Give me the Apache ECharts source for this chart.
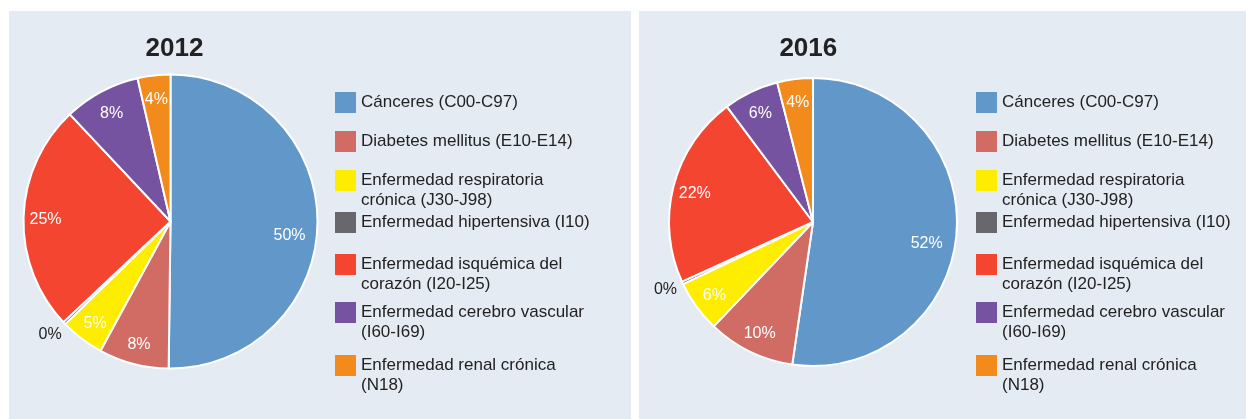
<!DOCTYPE html>
<html>
<head>
<meta charset="utf-8">
<script src="https://cdn.jsdelivr.net/npm/echarts@6/dist/echarts.min.js"></script>
<style>
  html, body { margin: 0; padding: 0; background: #fff; width: 1246px; height: 419px; overflow: hidden; }
  .panel { position: absolute; top: 11px; height: 408px; background: #e5ebf3; }
  #chart2012 { left: 9px; width: 622px; }
  #chart2016 { left: 639px; width: 607px; }
</style>
</head>
<body>
<div id="chart2012" class="panel" role="img" aria-label="Distribución de muertes por causa, 2012"></div>
<div id="chart2016" class="panel" role="img" aria-label="Distribución de muertes por causa, 2016"></div>
<script>
const causes = [
  "Cánceres (C00-C97)",
  "Diabetes mellitus (E10-E14)",
  "Enfermedad respiratoria crónica (J30-J98)",
  "Enfermedad hipertensiva (I10)",
  "Enfermedad isquémica del corazón (I20-I25)",
  "Enfermedad cerebro vascular (I60-I69)",
  "Enfermedad renal crónica (N18)",
]
const legendLabels = [
  "Cánceres (C00-C97)",
  "Diabetes mellitus (E10-E14)",
  "Enfermedad respiratoria\ncrónica (J30-J98)",
  "Enfermedad hipertensiva (I10)",
  "Enfermedad isquémica del\ncorazón (I20-I25)",
  "Enfermedad cerebro vascular\n(I60-I69)",
  "Enfermedad renal crónica\n(N18)",
]
const share2012 = [50.2, 7.7, 4.8, 0.3, 25.0, 8.4, 3.6]
const share2016 = [52.3, 9.8, 5.8, 0.3, 21.6, 6.2, 4.0]
const causeColors = ["#6198c9", "#d16c65", "#ffed00", "#68676b", "#f3452f", "#7653a1", "#f38b1c"]

const fontFamily = "Liberation Sans, Arial, sans-serif"
const pct = (p) => Math.round(p.percent) + "%"

function renderPie(node, year, shares, layout) {
  const chart = echarts.init(node, null, { renderer: "canvas" })
  // icon tops of the legend rows, panel coordinates
  const iconTops = [81, 120, 159, 201, 243, 291, 344]

  const legends = causes.map((name, i) => {
    const twoLines = legendLabels[i].includes("\n")
    return {
      orient: "vertical",
      left: layout.legendLeft,
      top: twoLines ? iconTops[i] - 19.5 : iconTops[i],
      padding: 0,
      icon: "rect",
      itemWidth: 21,
      itemHeight: 21,
      selectedMode: false,
      itemStyle: { borderWidth: 0 },
      // a blank first line keeps the square level with the first text line
      formatter: () => (twoLines ? "\n" : "") + legendLabels[i],
      textStyle: { fontSize: 17, lineHeight: 20, color: "#222", fontFamily },
      data: [name],
    }
  })

  const isTiny = (v) => Math.round(v) === 0
  const biggest = shares.indexOf(Math.max(...shares))

  chart.setOption({
    animation: false,
    textStyle: { fontFamily },
    title: {
      text: year,
      left: layout.titleX,
      top: 38,
      padding: 0,
      textAlign: "center",
      textVerticalAlign: "middle",
      textStyle: { fontSize: 26, fontWeight: "bold", color: "#222", fontFamily },
    },
    legend: legends,
    series: [
      {
        type: "pie",
        center: [layout.cx, layout.cy],
        radius: layout.r,
        startAngle: 90,
        clockwise: true,
        avoidLabelOverlap: false,
        itemStyle: { borderColor: "#fff", borderWidth: 2 },
        label: { show: false },
        labelLine: { show: false },
        data: causes.map((name, i) => ({
          name,
          value: shares[i],
          itemStyle: { color: causeColors[i] },
          label: isTiny(shares[i])
            ? {
                show: true,
                position: "outside",
                color: "#222",
                fontSize: 16,
                distanceToLabelLine: -9,
                formatter: pct,
              }
            : undefined,
          labelLine: isTiny(shares[i])
            ? { show: false, length: layout.zeroLen, length2: 0 }
            : undefined,
        })),
      },
      {
        // invisible twin that only carries the in-slice percentages
        type: "pie",
        silent: true,
        center: [layout.cx, layout.cy],
        radius: layout.labelR,
        startAngle: 90,
        clockwise: true,
        itemStyle: { color: "transparent", borderWidth: 0 },
        label: { show: true, position: "inside", color: "#fff", fontSize: 16, formatter: pct },
        labelLine: { show: false },
        data: causes.map((name, i) => ({
          name,
          value: shares[i],
          label: isTiny(shares[i])
            ? { show: false }
            : i === biggest
              ? { offset: layout.bigOffset }
              : { offset: [0, 2] },
        })),
      },
    ],
  })
  return chart
}

renderPie(document.getElementById("chart2012"), "2012", share2012, {
  cx: 161.5, cy: 210.5, r: 147, labelR: 244, titleX: 165.5, legendLeft: 326, zeroLen: 16,
  bigOffset: [-6, 13],
})
renderPie(document.getElementById("chart2016"), "2016", share2016, {
  cx: 174, cy: 211, r: 144, labelR: 238, titleX: 169.3, legendLeft: 337, zeroLen: 16,
  bigOffset: [-8, 13],
})
</script>
</body>
</html>
